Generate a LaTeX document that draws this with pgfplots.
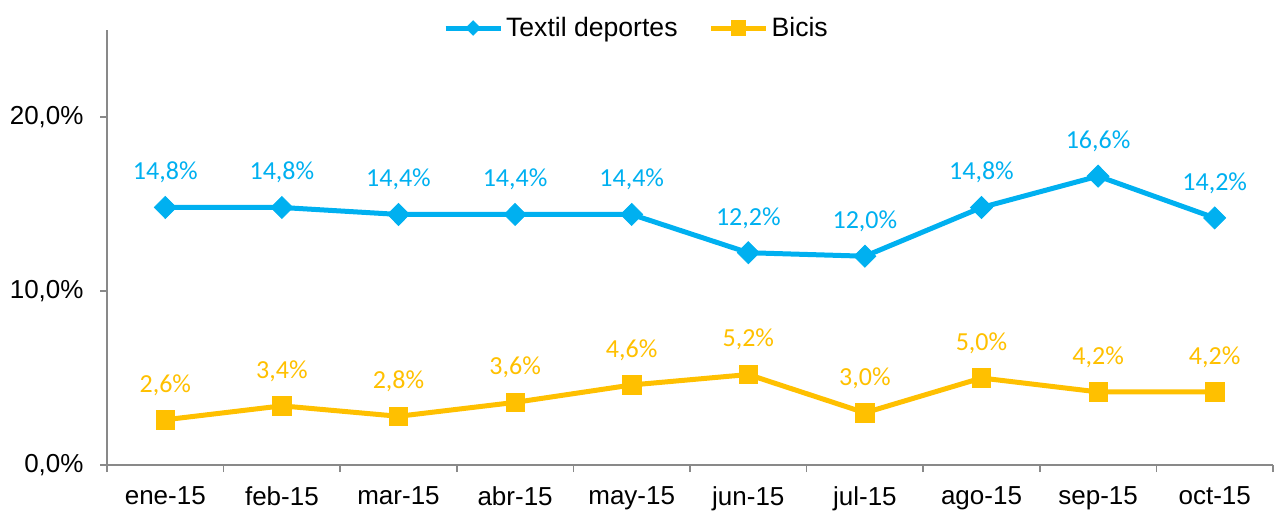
\documentclass[border=0pt]{standalone}
\usepackage{pgfplots}
\pgfplotsset{compat=1.18}
\usepackage{fontspec}
\setmainfont{Liberation Sans}
\newfontfamily\lblfont{Carlito}
\definecolor{serieA}{HTML}{00B0F0}
\definecolor{serieB}{HTML}{FFC000}
\definecolor{axisgray}{HTML}{898989}

\begin{document}
\begin{tikzpicture}
\begin{axis}[name=ax,scale only axis,width=583pt,height=217.5pt,
  xmin=-0.5,xmax=9.5,ymin=0,ymax=25,clip=false,
  axis x line=bottom,axis y line=left,
  axis line style={draw=axisgray,line width=0.8pt,-},
  every tick/.style={draw=axisgray,line width=0.8pt},
  tick align=outside,major tick length=0pt,minor tick length=3.5pt,
  xtick={0,...,9},
  xticklabels={ene-15,feb-15,mar-15,abr-15,may-15,jun-15,jul-15,ago-15,sep-15,oct-15},
  minor xtick={-0.5,0.5,...,9.5},
  ytick={0,10,20},minor ytick={0,10,20},
  yticklabels={{0,0\%},{10,0\%},{20,0\%}},
  x tick label style={font=\fontsize{13}{15}\selectfont,yshift=-7.5pt},
  y tick label style={font=\fontsize{13}{15}\selectfont,xshift=-8.2pt},
  nodes near coords={\pgfmathprintnumber[fixed,fixed zerofill,precision=1,use comma,assume math mode=true]{\pgfplotspointmeta}\%},
  every node near coord/.append style={font=\lblfont\fontsize{13}{15}\selectfont,anchor=south,inner sep=0pt,yshift=12pt},
  legend image code/.code={\draw[#1] plot coordinates {(0pt,0pt) (13.75pt,0pt) (27.5pt,0pt)};},
  legend style={at={(0.4545,1)},anchor=center,yshift=1pt,draw=none,fill=none,
    legend columns=2,font=\fontsize{13.3}{16}\selectfont,
    nodes={inner sep=1.5pt},
    /tikz/every even column/.append style={column sep=14pt}},
]
\addplot[serieA,line width=2.5pt,mark=diamond*,mark size=5.5pt,
  mark options={solid,line width=0.4pt,xscale=1.33},
  every node near coord/.append style={text=serieA},
  legend image post style={mark size=3.6pt,mark repeat=2,mark phase=2}]
  coordinates {(0,14.8)(1,14.8)(2,14.4)(3,14.4)(4,14.4)(5,12.2)(6,12.0)(7,14.8)(8,16.6)(9,14.2)};
\addplot[serieB,line width=2.5pt,mark=square*,mark size=4.6pt,
  mark options={solid,line width=0.4pt},
  every node near coord/.append style={text=serieB},
  legend image post style={mark size=3.6pt,mark repeat=2,mark phase=2}]
  coordinates {(0,2.6)(1,3.4)(2,2.8)(3,3.6)(4,4.6)(5,5.2)(6,3.0)(7,5.0)(8,4.2)(9,4.2)};
\legend{Textil deportes,Bicis}
\end{axis}
\pgfresetboundingbox
\path[use as bounding box] ([shift={(-53.5pt,-22.5pt)}]ax.south west) rectangle ([shift={(585pt,232.5pt)}]ax.south west);
\end{tikzpicture}
\end{document}
